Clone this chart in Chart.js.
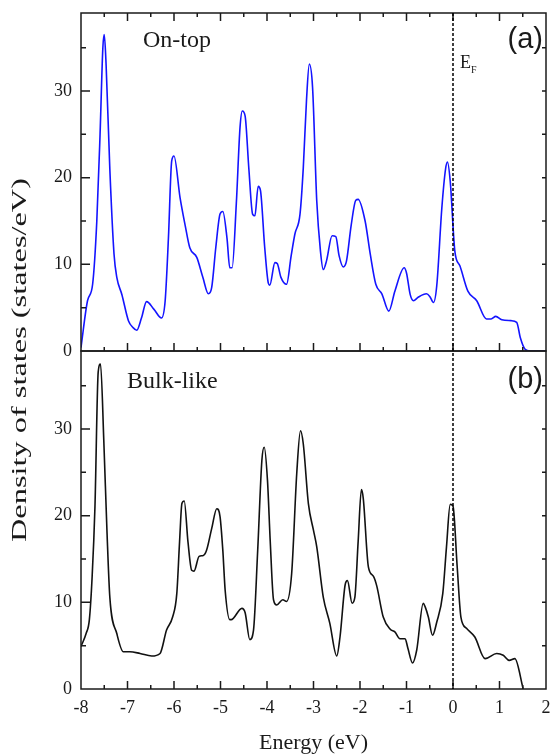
<!DOCTYPE html>
<html>
<head>
<meta charset="utf-8">
<style>
  html, body { margin: 0; padding: 0; background: #fff; }
  #dos { display: block; }
</style>
<script src="https://cdn.jsdelivr.net/npm/chart.js@4.4.1/dist/chart.umd.min.js"></script>
</head>
<body>
<canvas id="dos" width="551" height="756"></canvas>
<script>
// panel (a): on-top site
const onTopEnergy = [
  -8.00, -7.86, -7.75, -7.66, -7.59, -7.53, -7.50, -7.46, -7.38, -7.29, -7.23, -7.12,
  -6.98, -6.88, -6.80, -6.70, -6.59, -6.43, -6.27, -6.19, -6.12, -6.05, -6.00, -5.87,
  -5.76, -5.66, -5.51, -5.38, -5.26, -5.19, -5.10, -5.01, -4.95, -4.86, -4.80, -4.75,
  -4.66, -4.58, -4.53, -4.47, -4.39, -4.31, -4.26, -4.19, -4.14, -4.05, -3.97, -3.94,
  -3.83, -3.78, -3.70, -3.58, -3.48, -3.40, -3.29, -3.22, -3.15, -3.09, -3.02, -2.93,
  -2.85, -2.79, -2.72, -2.60, -2.52, -2.45, -2.36, -2.29, -2.19, -2.09, -2.04, -1.89,
  -1.78, -1.66, -1.53, -1.38, -1.25, -1.05, -1.00, -0.92, -0.85, -0.75, -0.57, -0.50,
  -0.42, -0.35, -0.24, -0.16, -0.12, -0.06, 0.04, 0.15, 0.32, 0.51, 0.72, 0.82,
  0.92, 1.05, 1.25, 1.37, 1.45, 1.55, 1.66, 2.00
];
const onTopDos = [
  0.4, 5.8, 7.7, 15.0, 25.0, 35.0, 36.5, 33.0, 21.0, 11.2, 8.5, 6.5,
  3.5, 2.7, 2.4, 3.8, 5.7, 4.8, 3.8, 5.8, 13.0, 21.9, 22.5, 17.7,
  14.5, 11.9, 10.8, 8.5, 6.6, 7.3, 12.0, 15.8, 16.1, 13.0, 9.6, 9.6,
  17.0, 25.8, 27.7, 27.1, 21.0, 15.8, 15.6, 19.0, 18.5, 12.0, 7.8, 7.6,
  10.2, 10.1, 8.5, 7.7, 11.0, 13.5, 15.8, 21.1, 29.0, 33.1, 30.4, 17.3,
  11.5, 9.4, 10.4, 13.3, 13.2, 11.0, 9.7, 10.4, 14.5, 17.4, 17.5, 15.0,
  11.2, 7.7, 6.6, 4.6, 6.9, 9.6, 9.0, 6.5, 5.8, 6.2, 6.6, 6.3,
  5.6, 7.5, 16.5, 21.0, 21.8, 19.6, 11.5, 9.8, 6.9, 5.8, 3.7, 3.7,
  4.0, 3.6, 3.5, 3.3, 1.5, 0.2, 0.0, 0.0
];

// panel (b): bulk-like site
const bulkEnergy = [
  -8.00, -7.89, -7.82, -7.76, -7.70, -7.63, -7.58, -7.51, -7.44, -7.38, -7.23, -7.09,
  -6.95, -6.73, -6.48, -6.30, -6.16, -6.03, -5.94, -5.88, -5.83, -5.78, -5.70, -5.62,
  -5.57, -5.46, -5.37, -5.30, -5.19, -5.08, -5.01, -4.95, -4.90, -4.80, -4.77, -4.54,
  -4.47, -4.37, -4.29, -4.20, -4.11, -4.06, -3.99, -3.93, -3.86, -3.79, -3.66, -3.58,
  -3.47, -3.36, -3.28, -3.22, -3.11, -3.00, -2.93, -2.79, -2.65, -2.50, -2.43, -2.32,
  -2.27, -2.17, -2.11, -2.04, -1.97, -1.93, -1.82, -1.71, -1.64, -1.50, -1.35, -1.25,
  -1.14, -1.03, -0.97, -0.87, -0.78, -0.64, -0.60, -0.53, -0.44, -0.35, -0.22, -0.14,
  -0.06, 0.00, 0.09, 0.17, 0.29, 0.47, 0.69, 0.94, 1.08, 1.21, 1.33, 1.51
];
const bulkDos = [
  4.9, 6.4, 8.0, 13.0, 21.0, 36.6, 37.5, 28.7, 18.0, 10.6, 6.4, 4.3,
  4.3, 4.1, 3.8, 4.1, 6.8, 8.3, 11.0, 17.0, 21.4, 21.7, 17.0, 13.7,
  13.6, 15.3, 15.4, 16.0, 18.5, 20.8, 19.9, 16.0, 11.4, 8.0, 8.0, 9.3,
  8.8, 5.7, 6.8, 16.0, 26.4, 27.9, 24.1, 17.0, 10.3, 9.7, 10.3, 10.1,
  13.3, 24.9, 29.8, 28.3, 21.4, 18.3, 16.4, 10.6, 7.6, 3.8, 6.0, 12.0,
  12.5, 9.9, 10.6, 17.0, 23.0, 22.0, 14.1, 13.0, 11.9, 8.3, 6.9, 6.6,
  5.8, 5.8, 4.7, 3.0, 4.5, 9.9, 9.5, 8.3, 6.2, 7.7, 11.0, 16.4,
  21.3, 21.1, 14.1, 8.3, 7.0, 6.0, 3.5, 4.1, 3.9, 3.3, 3.5, 0.0
];

const energyRange = [-8, 2];
const dosRange = [0, 39];
const fermiLevel = 0;

const toPoints = (xs, ys) => xs.map((x, i) => ({ x: x, y: ys[i] }));

const ink = "#1a1a1a";
const serif = "'Liberation Serif', 'Times New Roman', serif";
const sans = "'Liberation Sans', Arial, sans-serif";

Chart.defaults.font.family = serif;
Chart.defaults.color = ink;

// frame, inward ticks, Fermi level and panel labels
const framePlugin = {
  id: "frame",
  afterDatasetsDraw(chart) {
    const ctx = chart.ctx;
    const xs = chart.scales.x;
    const panels = [chart.scales.yTop, chart.scales.yBot];
    ctx.save();
    ctx.strokeStyle = ink;
    ctx.lineWidth = 1.5;

    panels.forEach((ys, p) => {
      const left = xs.left, right = xs.right, top = ys.top, bottom = ys.bottom;
      ctx.strokeRect(left, top, right - left, bottom - top);
      ctx.beginPath();
      for (let v = energyRange[0] + 0.5; v < energyRange[1]; v += 0.5) {
        const px = xs.getPixelForValue(v);
        const len = Number.isInteger(v) ? 8 : 4;
        ctx.moveTo(px, bottom);
        ctx.lineTo(px, bottom - len);
        if (p === 0) {
          ctx.moveTo(px, top);
          ctx.lineTo(px, top + len);
        }
      }
      for (let v = 5; v < dosRange[1]; v += 5) {
        const py = ys.getPixelForValue(v);
        const len = v % 10 === 0 ? 9 : 5;
        ctx.moveTo(left, py);
        ctx.lineTo(left + len, py);
        ctx.moveTo(right, py);
        ctx.lineTo(right - 4, py);
      }
      ctx.stroke();
    });

    // Fermi level
    const fx = xs.getPixelForValue(fermiLevel);
    ctx.beginPath();
    ctx.setLineDash([3, 2]);
    ctx.lineWidth = 1.5;
    ctx.strokeStyle = "#000";
    ctx.moveTo(fx, panels[0].top);
    ctx.lineTo(fx, panels[1].bottom);
    ctx.stroke();
    ctx.setLineDash([]);

    ctx.fillStyle = ink;
    ctx.textBaseline = "middle";
    ctx.textAlign = "left";
    ctx.font = "24px " + serif;
    ctx.fillText("On-top", xs.left + 62, panels[0].top + 28);
    ctx.fillText("Bulk-like", xs.left + 46, panels[1].top + 31);

    ctx.textAlign = "right";
    ctx.font = "29px " + sans;
    ctx.fillText("(a)", xs.right - 3, panels[0].top + 27);
    ctx.fillText("(b)", xs.right - 3, panels[1].top + 29);

    ctx.textAlign = "left";
    ctx.textBaseline = "alphabetic";
    ctx.font = "18px " + serif;
    ctx.fillText("E", fx + 7, panels[0].top + 55);
    ctx.font = "10px " + serif;
    ctx.fillText("F", fx + 18, panels[0].top + 60);

    // shared y title
    const title = "Density of states (states/eV)";
    ctx.font = "20px " + serif;
    const w = ctx.measureText(title).width;
    const target = 364;
    ctx.translate(21, (panels[0].top + panels[1].bottom) / 2 + 9);
    ctx.rotate(-Math.PI / 2);
    ctx.scale(target / w, 1);
    ctx.textAlign = "center";
    ctx.textBaseline = "middle";
    ctx.fillText(title, 0, 0);
    ctx.restore();
  }
};

const yAxis = (stackWeight) => ({
  type: "linear",
  position: "left",
  stack: "dos",
  stackWeight: stackWeight,
  offset: false,
  min: dosRange[0],
  max: dosRange[1],
  grid: { display: false, drawTicks: false },
  border: { display: false },
  ticks: { stepSize: 10, includeBounds: false, padding: 9, font: { size: 18 }, color: ink },
  afterFit: (scale) => {
    scale.width = 81;
    scale.paddingTop = 0;
    scale.paddingBottom = 0;
  },
});

new Chart(document.getElementById("dos"), {
  type: "line",
  data: {
    datasets: [
      {
        label: "On-top",
        data: toPoints(onTopEnergy, onTopDos),
        yAxisID: "yTop",
        borderColor: "#1414ff",
        borderWidth: 1.6,
        pointRadius: 0,
        cubicInterpolationMode: "monotone",
      },
      {
        label: "Bulk-like",
        data: toPoints(bulkEnergy, bulkDos),
        yAxisID: "yBot",
        borderColor: "#111111",
        borderWidth: 1.6,
        pointRadius: 0,
        cubicInterpolationMode: "monotone",
      },
    ],
  },
  options: {
    responsive: false,
    animation: false,
    layout: { padding: { top: 13, right: 5, left: 0, bottom: 0 } },
    plugins: { legend: { display: false }, tooltip: { enabled: false } },
    scales: {
      x: {
        type: "linear",
        min: energyRange[0],
        max: energyRange[1],
        grid: { display: false, drawTicks: false },
        border: { display: false },
        ticks: { stepSize: 1, padding: 8, font: { size: 18 }, color: ink },
        title: { display: true, text: "Energy (eV)", font: { size: 22 }, color: ink, padding: { top: 0, bottom: 0 } },
        afterFit: (scale) => {
          scale.height = 67;
          scale.paddingLeft = 0;
          scale.paddingRight = 0;
        },
      },
      yBot: yAxis(1),
      yTop: yAxis(1),
    },
  },
  plugins: [framePlugin],
});
</script>
</body>
</html>
